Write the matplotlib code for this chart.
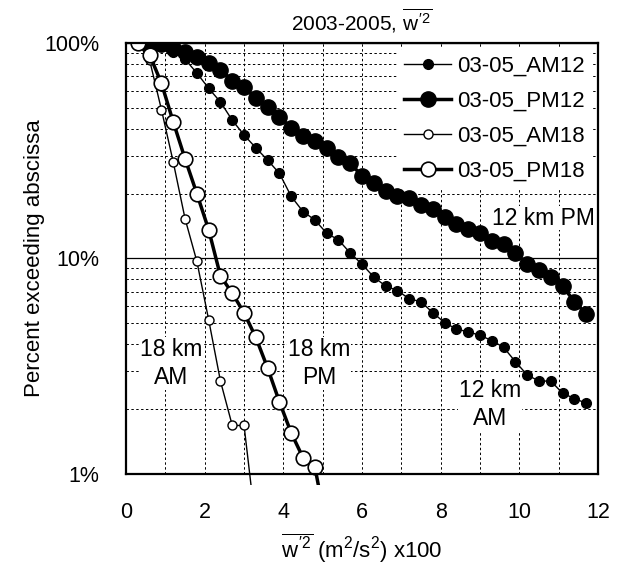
import matplotlib
matplotlib.use("Agg")
import matplotlib.pyplot as plt
from matplotlib.patches import Rectangle
from matplotlib.ticker import FixedLocator, NullFormatter

plt.rcParams['font.family'] = ['Liberation Sans', 'DejaVu Sans']
plt.rcParams['mathtext.fontset'] = 'custom'
plt.rcParams['mathtext.rm'] = 'Liberation Sans'
plt.rcParams['mathtext.it'] = 'Liberation Sans'

# ---- data ----
x_am12 = [0.6, 0.9, 1.2, 1.5, 1.8, 2.1, 2.4, 2.7, 3.0, 3.3, 3.6, 3.9, 4.2, 4.5, 4.8,
          5.1, 5.4, 5.7, 6.0, 6.3, 6.6, 6.9, 7.2, 7.5, 7.8, 8.1, 8.4, 8.7, 9.0, 9.3,
          9.6, 9.9, 10.2, 10.5, 10.8, 11.1, 11.4, 11.7]
y_am12 = [99.5, 97, 91, 84, 72.5, 61.6, 53.2, 43.8, 37.4, 32.6, 28.6, 24.8, 19.4, 16.5, 15.1,
          13.1, 12.2, 10.6, 9.4, 8.2, 7.45, 7.1, 6.5, 6.3, 5.6, 5.04, 4.7, 4.57, 4.4, 4.16,
          3.87, 3.32, 2.88, 2.70, 2.70, 2.37, 2.24, 2.13]

x_pm12 = [0.6, 0.9, 1.2, 1.5, 1.8, 2.1, 2.4, 2.7, 3.0, 3.3, 3.6, 3.9, 4.2, 4.5, 4.8,
          5.1, 5.4, 5.7, 6.0, 6.3, 6.6, 6.9, 7.2, 7.5, 7.8, 8.1, 8.4, 8.7, 9.0, 9.3,
          9.6, 9.9, 10.2, 10.5, 10.8, 11.1, 11.4, 11.7]
y_pm12 = [100, 99, 94.5, 90.5, 85.8, 80.5, 75, 66.9, 62.7, 55.4, 50.3, 45.5, 40.2, 37.0, 35.2,
          32.4, 29.5, 27.6, 24.2, 22.4, 20.5, 19.5, 19.0, 17.7, 16.9, 15.5, 14.5, 13.7, 13.1, 12.1,
          11.7, 10.6, 9.4, 8.85, 8.2, 7.45, 6.3, 5.55]

x_am18 = [0.3, 0.6, 0.9, 1.2, 1.5, 1.8, 2.1, 2.4, 2.7, 3.0, 3.3]
y_am18 = [100, 83, 49, 28, 15.3, 9.7, 5.2, 2.7, 1.68, 1.68, 0.57]

x_pm18 = [0.3, 0.6, 0.9, 1.2, 1.5, 1.8, 2.1, 2.4, 2.7, 3.0, 3.3, 3.6, 3.9, 4.2, 4.5, 4.8, 5.1]
y_pm18 = [100, 88, 65, 43, 29, 20, 13.6, 8.3, 6.9, 5.6, 4.3, 3.1, 2.16, 1.55, 1.19, 1.08, 0.56]

x_ticks = [0, 2, 4, 6, 8, 10, 12]
y_ticks = [1, 10, 100]
y_ticklabels = ['1%', '10%', '100%']

# ---- figure ----
fig = plt.figure(figsize=(6.21, 5.65), dpi=100)
ax = fig.add_axes([0.203, 0.161, 0.760, 0.763])
ax.set_yscale('log')
ax.set_xlim(0, 12)
ax.set_ylim(1, 100)

# grid
ax.xaxis.set_major_locator(FixedLocator(x_ticks))
ax.xaxis.set_minor_locator(FixedLocator(list(range(1, 12))))
ax.yaxis.set_major_locator(FixedLocator(y_ticks))
ax.yaxis.set_minor_locator(FixedLocator([m * d for d in (1, 10) for m in range(2, 10)]))
ax.yaxis.set_minor_formatter(NullFormatter())
ax.set_yticklabels(y_ticklabels)
ax.grid(True, which='minor', axis='both', color='black', linestyle=(0, (2.5, 2.5)), linewidth=0.7)
ax.grid(True, which='major', axis='x', color='black', linestyle=(0, (2.5, 2.5)), linewidth=0.7)
ax.grid(True, which='major', axis='y', color='black', linestyle='-', linewidth=0.9)
ax.set_axisbelow(True)
ax.tick_params(which='both', length=0, labelsize=15.5)
ax.tick_params(axis='y', pad=19)
ax.tick_params(axis='x', pad=20)
for s in ax.spines.values():
    s.set_linewidth(1.6)
    s.set_zorder(6)

clip = Rectangle((0, -0.025), 1, 1.025, transform=ax.transAxes, visible=False)
ax.add_patch(clip)

series = [
    (x_am12, y_am12, dict(color='black', lw=1.0, marker='o', ms=7, mfc='black', mec='black'), '03-05_AM12'),
    (x_pm12, y_pm12, dict(color='black', lw=2.5, marker='o', ms=11, mfc='black', mec='black'), '03-05_PM12'),
    (x_am18, y_am18, dict(color='black', lw=1.0, marker='o', ms=6.5, mfc='white', mec='black', mew=1.0), '03-05_AM18'),
    (x_pm18, y_pm18, dict(color='black', lw=2.5, marker='o', ms=10.5, mfc='white', mec='black', mew=1.2), '03-05_PM18'),
]
for xs, ys, st, lab in series:
    ln, = ax.plot(xs, ys, label=lab, **st)
    ln.set_clip_path(clip)

leg = ax.legend(loc='upper right', bbox_to_anchor=(0.985, 0.985), frameon=True, fontsize=16,
                handlelength=2.1, handletextpad=0.25, labelspacing=0.63, borderpad=0.3,
                borderaxespad=0.0)
leg.get_frame().set_edgecolor('none')
leg.get_frame().set_facecolor('white')
leg.get_frame().set_alpha(1.0)

tkw = dict(fontsize=16.5, ha='center', va='center', linespacing=1.3,
           bbox=dict(facecolor='white', edgecolor='none', pad=0.5))
ax.text(10.6, 15.4, '12 km PM', **tkw)
ax.text(1.15, 3.25, '18 km\nAM', **tkw)
ax.text(4.9, 3.25, '18 km\nPM', **tkw)
ax.text(9.25, 2.1, '12 km\nAM', **tkw)

ax.set_title(r"2003-2005, $\overline{w'^2}$", fontsize=15, pad=9)
ax.set_xlabel(r"$\overline{w'^2}$ (m$^2$/s$^2$) x100", fontsize=16, labelpad=6)
ax.set_ylabel('Percent exceeding abscissa', fontsize=16, labelpad=0)

fig.savefig('out.png', dpi=100, facecolor='white')
